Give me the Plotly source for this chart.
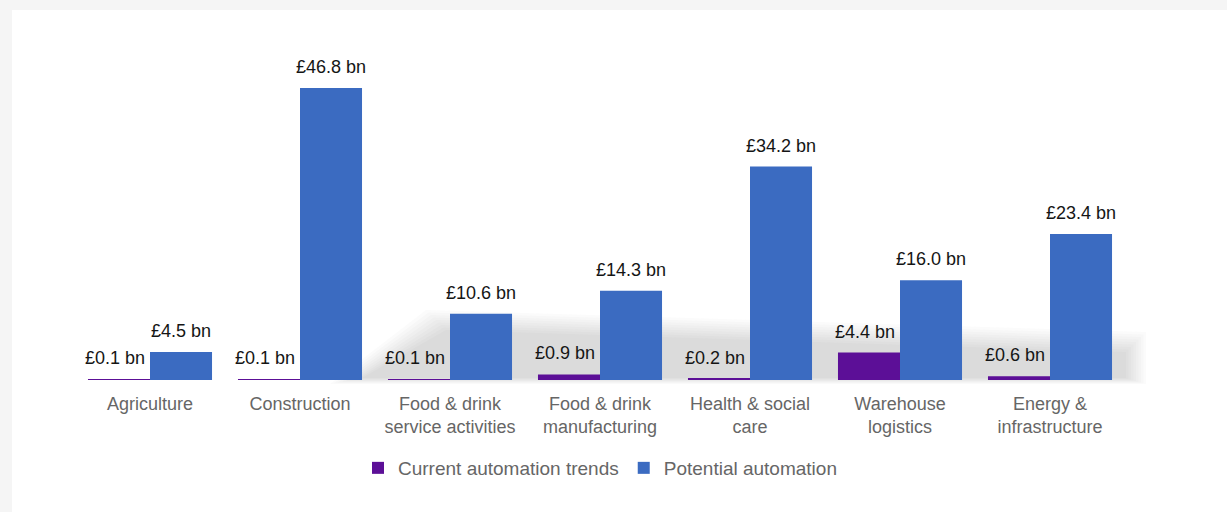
import plotly.graph_objects as go

categories = ["Agriculture", "Construction", "Food & drink<br>service activities",
              "Food & drink<br>manufacturing", "Health & social<br>care",
              "Warehouse<br>logistics", "Energy &<br>infrastructure"]
current = [0.1, 0.1, 0.1, 0.9, 0.2, 4.4, 0.6]
potential = [4.5, 46.8, 10.6, 14.3, 34.2, 16.0, 23.4]
series_names = ["Current automation trends", "Potential automation"]

PURPLE = "#5c0f97"
BLUE = "#3b6bc1"
FONT = "Liberation Sans, Arial, sans-serif"

# plot area geometry (px) used for decorative shapes only
L, R, T, B = 75, 102, 68, 132
W, H = 1227, 512
PW, PH = W - L - R, H - T - B

def px(xp):
    return (xp - L) / PW

def py(yp):
    return (H - B - yp) / PH

fig = go.Figure()
fig.add_trace(go.Bar(x=categories, y=current, name=series_names[0],
                     marker=dict(color=PURPLE, line=dict(width=0))))
fig.add_trace(go.Bar(x=categories, y=potential, name=series_names[1],
                     marker=dict(color=BLUE, line=dict(width=0))))

annotations = []
for c, v in zip(categories, current):
    annotations.append(dict(x=c, y=v, xref="x", yref="y", text=f"£{v:.1f} bn",
                            showarrow=False, yanchor="bottom", xshift=-35, yshift=9,
                            font=dict(family=FONT, size=18, color="#151515")))
for c, v in zip(categories, potential):
    annotations.append(dict(x=c, y=v, xref="x", yref="y", text=f"£{v:.1f} bn",
                            showarrow=False, yanchor="bottom", xshift=31, yshift=9,
                            font=dict(family=FONT, size=18, color="#151515")))

shapes = [
    # white card on light-grey page
    dict(type="rect", xref="paper", yref="paper", layer="below",
         x0=px(12), x1=px(1240), y0=py(530), y1=py(10),
         fillcolor="white", line=dict(width=0)),
]
# soft grey floor shadow behind the bars (many faint layers to mimic blur)
for k in range(9):
    inset = k * 2.5
    pts = [(330 + inset * 1.6, 384 - inset * 0.3), (426 + inset, 310 + inset),
           (1146 - inset, 332 + inset), (1146 - inset, 384 - inset * 0.3)]
    path = "M " + " L ".join(f"{px(a)},{py(b)}" for a, b in pts) + " Z"
    shapes.append(dict(type="path", xref="paper", yref="paper", layer="below",
                       path=path, fillcolor="rgba(110,110,110,0.028)",
                       line=dict(width=0)))

fig.update_layout(
    width=W, height=H,
    margin=dict(l=L, r=R, t=T, b=B, pad=0),
    paper_bgcolor="#f5f5f5",
    plot_bgcolor="rgba(0,0,0,0)",
    barmode="group", bargap=0.173, bargroupgap=0,
    font=dict(family=FONT, size=19, color="#666666"),
    xaxis=dict(showline=False, showgrid=False, zeroline=False, ticks="",
               tickfont=dict(family=FONT, size=18, color="#666666"),
               ticklabelstandoff=11),
    yaxis=dict(range=[0, 50], visible=False, showgrid=False, zeroline=False),
    legend=dict(orientation="h", x=0.5, xanchor="center", y=py(468), yanchor="middle",
                font=dict(family=FONT, size=19, color="#666666"),
                bgcolor="rgba(0,0,0,0)", itemwidth=30, traceorder="normal"),
    annotations=annotations,
    shapes=shapes,
)

fig.write_html("out.html")
